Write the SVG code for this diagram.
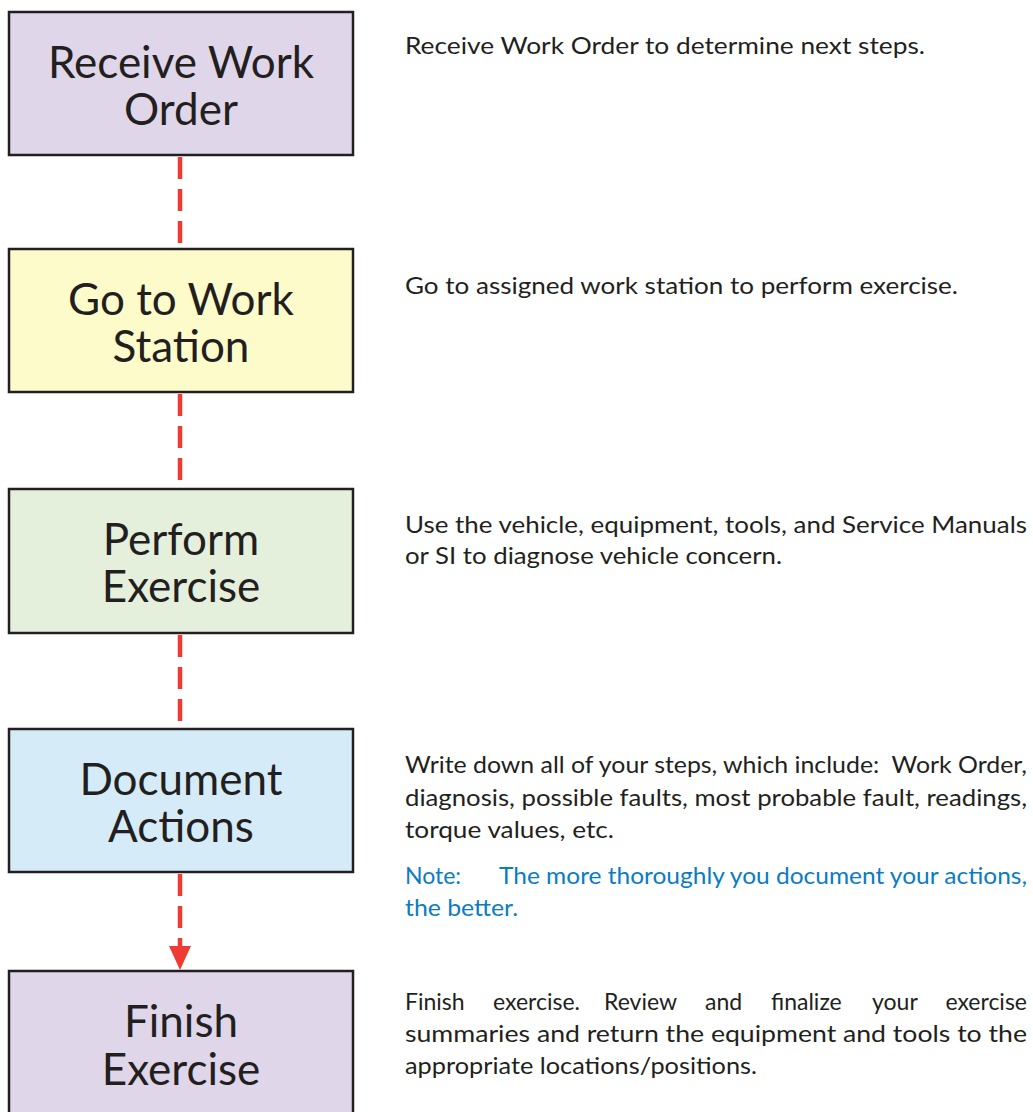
<svg xmlns="http://www.w3.org/2000/svg" width="1033" height="1112" viewBox="0 0 1033 1112">
<style>
.box{stroke:#231f20;stroke-width:2.5}
.nt{font-family:Lato,"Liberation Sans",sans-serif;font-size:44px;fill:#231f20;text-anchor:middle}
.dt{font-family:Lato,"Liberation Sans",sans-serif;font-size:23px;fill:#231f20}
.nb{fill:#0a7cc4}
.con{stroke:#ee3b33;stroke-width:4.5;stroke-dasharray:22 10;fill:none}
</style>
<rect width="1033" height="1112" fill="#fff"/>
<g id="connectors">
<line class="con" x1="180" y1="157" x2="180" y2="248"/>
<line class="con" x1="180" y1="394" x2="180" y2="488"/>
<line class="con" x1="180" y1="635" x2="180" y2="728"/>
<line class="con" x1="180" y1="874" x2="180" y2="950"/>
<path d="M169,946 L191,946 L180,970 Z" fill="#ee3b33"/>
</g>
<g id="n1">
<rect class="box" x="9" y="12" width="344" height="143" fill="#dfd6e9"/>
<text class="nt" x="181" y="78">Receive Work</text>
<text class="nt" x="181" y="125">Order</text>
</g>
<g id="n2">
<rect class="box" x="9" y="249" width="344" height="143" fill="#fefbcb"/>
<text class="nt" x="181" y="315">Go to Work</text>
<text class="nt" x="181" y="362">Station</text>
</g>
<g id="n3">
<rect class="box" x="9" y="489" width="344" height="144" fill="#e5f0dc"/>
<text class="nt" x="181" y="555">Perform</text>
<text class="nt" x="181" y="602">Exercise</text>
</g>
<g id="n4">
<rect class="box" x="9" y="729" width="344" height="143" fill="#d5ecf8"/>
<text class="nt" x="181" y="795">Document</text>
<text class="nt" x="181" y="842">Actions</text>
</g>
<g id="n5">
<rect class="box" x="9" y="971" width="344" height="150" fill="#dfd6e9"/>
<text class="nt" x="181" y="1037">Finish</text>
<text class="nt" x="181" y="1085">Exercise</text>
</g>
<g id="d1"><text class="dt" x="405" y="54" textLength="520" lengthAdjust="spacingAndGlyphs">Receive Work Order to determine next steps.</text></g>
<g id="d2"><text class="dt" x="405" y="294" textLength="553" lengthAdjust="spacingAndGlyphs">Go to assigned work station to perform exercise.</text></g>
<g id="d3">
<text class="dt" x="405" y="533" textLength="622" lengthAdjust="spacingAndGlyphs">Use the vehicle, equipment, tools, and Service Manuals</text>
<text class="dt" x="405" y="564" textLength="377" lengthAdjust="spacingAndGlyphs">or SI to diagnose vehicle concern.</text>
</g>
<g id="d4">
<text class="dt" x="405" y="773" textLength="622" lengthAdjust="spacingAndGlyphs">Write down all of your steps, which include:&#160;&#160;Work Order,</text>
<text class="dt" x="405" y="806" textLength="622" lengthAdjust="spacingAndGlyphs">diagnosis, possible faults, most probable fault, readings,</text>
<text class="dt" x="405" y="838" textLength="209" lengthAdjust="spacingAndGlyphs">torque values, etc.</text>
<text class="dt nb" x="405" y="884">Note:</text>
<text class="dt nb" x="499" y="884" textLength="528" lengthAdjust="spacingAndGlyphs">The more thoroughly you document your actions,</text>
<text class="dt nb" x="405" y="916" textLength="113" lengthAdjust="spacingAndGlyphs">the better.</text>
</g>
<g id="d5">
<text class="dt" y="1010"><tspan x="405">Finish</tspan><tspan x="493">exercise.</tspan><tspan x="604">Review</tspan><tspan x="705">and</tspan><tspan x="771">finalize</tspan><tspan x="872">your</tspan></text>
<text class="dt" x="1027" y="1010" text-anchor="end">exercise</text>
<text class="dt" x="405" y="1042" textLength="622" lengthAdjust="spacingAndGlyphs">summaries and return the equipment and tools to the</text>
<text class="dt" x="405" y="1074" textLength="352" lengthAdjust="spacingAndGlyphs">appropriate locations/positions.</text>
</g>
</svg>
